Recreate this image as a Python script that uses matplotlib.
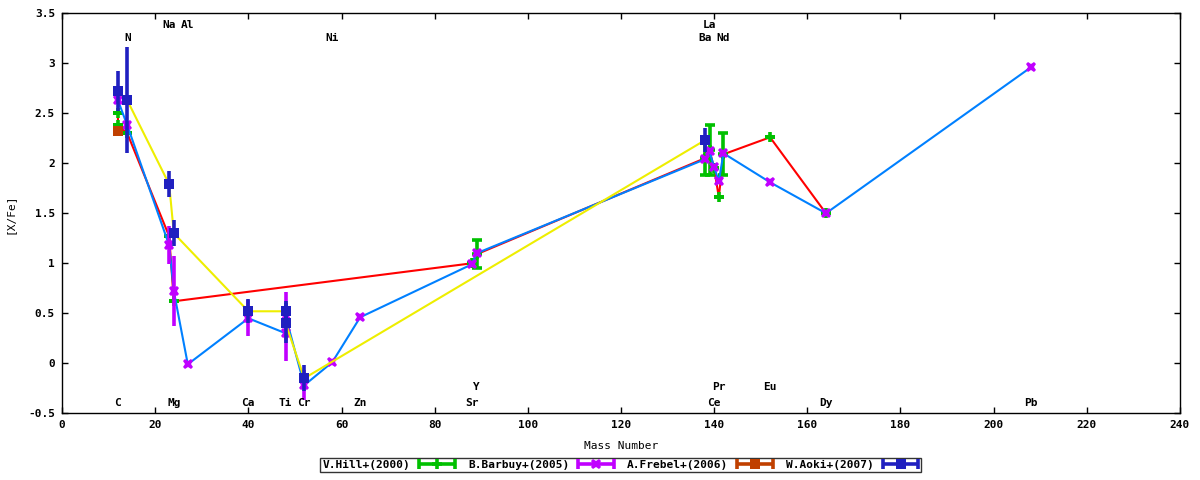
import numpy as np
import matplotlib
matplotlib.use("Agg")
import matplotlib.pyplot as plt
from matplotlib.lines import Line2D
from matplotlib.legend_handler import HandlerBase

plt.rcParams["font.family"] = ["DejaVu Sans Mono"]
plt.rcParams["font.weight"] = "bold"
plt.rcParams["font.size"] = 8

# V.Hill+(2000)
hill_mass = [12, 12, 14, 23, 24, 88, 89, 138, 139, 140, 141, 142, 152, 164]
hill_xfe = [2.50, 2.38, 2.30, 1.27, 0.62, 1.00, 1.09, 2.05, 2.13, 1.95, 1.66, 2.09, 2.26, 1.50]
hill_err = [0.0, 0.0, 0.0, 0.0, 0.0, 0.0, 0.14, 0.17, 0.25, 0.0, 0.0, 0.21, 0.0, 0.0]

# B.Barbuy+(2005)
barbuy_mass = [12, 14, 23, 24, 27, 40, 48, 48, 52, 58, 64, 88, 89,
               138, 139, 140, 141, 142, 152, 164, 208]
barbuy_xfe = [2.63, 2.38, 1.18, 0.72, -0.01, 0.45, 0.30, 0.47, -0.22, 0.01, 0.46, 0.99, 1.10,
              2.04, 2.12, 1.96, 1.82, 2.10, 1.81, 1.50, 2.96]
barbuy_err = [0.0, 0.0, 0.19, 0.35, 0.0, 0.18, 0.28, 0.24, 0.15, 0.0, 0.0, 0.0, 0.0,
              0.0, 0.0, 0.0, 0.0, 0.0, 0.0, 0.0, 0.0]

# A.Frebel+(2006)
frebel_mass = [12]
frebel_xfe = [2.32]
frebel_err = [0.03]

# W.Aoki+(2007)
aoki_mass = [12, 14, 23, 24, 40, 48, 48, 52, 138]
aoki_xfe = [2.72, 2.63, 1.79, 1.30, 0.52, 0.52, 0.40, -0.15, 2.23]
aoki_err = [0.20, 0.53, 0.13, 0.13, 0.12, 0.10, 0.20, 0.13, 0.12]

# element labels: (name, mass number, y position)
label_names = ["C", "Mg", "Ca", "Ti", "Cr", "Zn", "Sr", "Ce", "Dy", "Pb",
               "Y", "Pr", "Eu",
               "N", "Ni", "Ba", "Nd",
               "Na", "Al", "La"]
label_mass = [12, 24, 40, 48, 52, 64, 88, 140, 164, 208,
              89, 141, 152,
              14, 58, 138, 142,
              23, 27, 139]
label_y = [-0.40] * 10 + [-0.24] * 3 + [3.25] * 4 + [3.38] * 3

RED = "#ff0000"
GREEN = "#00c000"
LBLUE = "#0080ff"
MAGENTA = "#c000ff"
BROWN = "#c04000"
YELLOW = "#eeee00"
NAVY = "#2020c0"

LW_ERR = 2.6


class HandlerBar(HandlerBase):
    """gnuplot-like key sample: horizontal bar with end caps and a point."""

    def create_artists(self, legend, orig, xdescent, ydescent, width, height,
                       fontsize, trans):
        y = height / 2 - ydescent
        x0, x1 = -xdescent, width - xdescent
        c = orig.get_color()
        bar = Line2D([x0, x1], [y, y], color=c, lw=LW_ERR, transform=trans,
                     solid_capstyle="butt")
        caps = Line2D([x0, x0, np.nan, x1, x1], [y - 3.5, y + 3.5, np.nan, y - 3.5, y + 3.5],
                      color=c, lw=LW_ERR, transform=trans, solid_capstyle="butt")
        mark = Line2D([(x0 + x1) / 2], [y], marker=orig.get_marker(), color=c,
                      markersize=orig.get_markersize(), mew=orig.get_markeredgewidth(),
                      linestyle="none", transform=trans)
        return [bar, caps, mark]


fig = plt.figure(figsize=(12, 4.8), dpi=100)
ax = fig.add_axes([0.0517, 0.139, 0.9316, 0.8333])

eb_kw = dict(linestyle="none", elinewidth=LW_ERR, capsize=3.5, capthick=LW_ERR)

ax.plot(hill_mass, hill_xfe, color=RED, lw=1.5, zorder=1)
ax.errorbar(hill_mass, hill_xfe, yerr=hill_err, fmt="+", color=GREEN,
            markersize=7.5, mew=2.6, zorder=2, **eb_kw)
ax.plot(barbuy_mass, barbuy_xfe, color=LBLUE, lw=1.5, zorder=3)
ax.errorbar(barbuy_mass, barbuy_xfe, yerr=barbuy_err, fmt="X", color=MAGENTA,
            markersize=7.5, mew=0, zorder=4, **eb_kw)
ax.errorbar(frebel_mass, frebel_xfe, yerr=frebel_err, fmt="s", color=BROWN,
            markersize=7.5, mew=0, zorder=5, **eb_kw)
ax.plot(aoki_mass, aoki_xfe, color=YELLOW, lw=1.5, zorder=6)
ax.errorbar(aoki_mass, aoki_xfe, yerr=aoki_err, fmt="s", color=NAVY,
            markersize=7.5, mew=0, zorder=7, **eb_kw)

for name, m, y in zip(label_names, label_mass, label_y):
    ax.text(m, y, name, ha="center", va="center", fontsize=8, zorder=10)

ax.set_xlim(0, 240)
ax.set_ylim(-0.5, 3.5)
xt = np.arange(0, 241, 20)
ax.set_xticks(xt)
ax.set_xticklabels([str(v) for v in xt])
yt = np.arange(-0.5, 3.51, 0.5)
ax.set_yticks(yt)
ax.set_yticklabels([f"{v:g}" for v in yt])
ax.tick_params(direction="in", length=4, width=1, top=True, right=True,
               labelsize=8, pad=5)
for s in ax.spines.values():
    s.set_linewidth(1)

ax.set_xlabel("Mass Number", fontsize=8, labelpad=8)
ax.set_ylabel("[X/Fe]", fontsize=8, labelpad=10)

handles = [
    Line2D([], [], color=GREEN, marker="+", markersize=7.5, mew=2.6),
    Line2D([], [], color=MAGENTA, marker="X", markersize=7.5, mew=0),
    Line2D([], [], color=BROWN, marker="s", markersize=7.5, mew=0),
    Line2D([], [], color=NAVY, marker="s", markersize=7.5, mew=0),
]
labels = ["V.Hill+(2000)", "B.Barbuy+(2005)", "A.Frebel+(2006)", "W.Aoki+(2007)"]
leg = fig.legend(handles, labels, loc="lower center", bbox_to_anchor=(0.517, 0.005),
                 ncol=4, markerfirst=False, frameon=True, fancybox=False,
                 edgecolor="black", borderpad=0.2, handlelength=3.2,
                 columnspacing=1.2, handletextpad=0.8, fontsize=8,
                 handler_map={Line2D: HandlerBar()})
leg.get_frame().set_linewidth(1)

fig.savefig("out.png", dpi=100)
